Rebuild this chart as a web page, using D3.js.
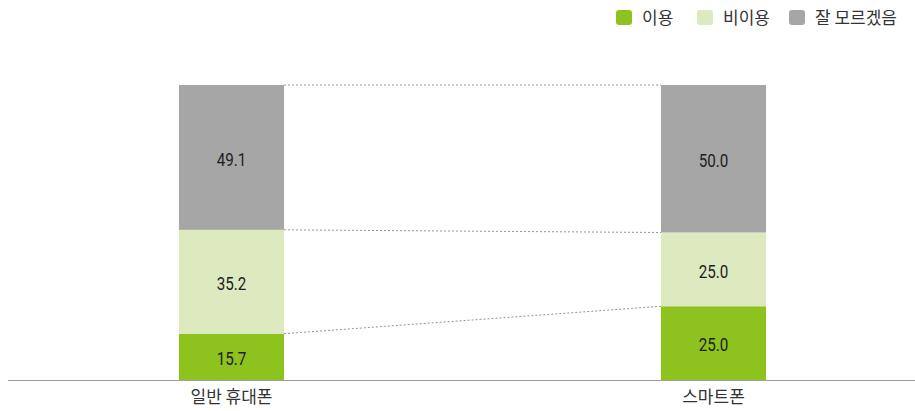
<!DOCTYPE html>
<html>
<head>
<meta charset="utf-8">
<script src="https://cdn.jsdelivr.net/npm/d3@7"></script>
<style>
  html, body { margin: 0; padding: 0; background: #fff; }
  svg { display: block; font-family: "Noto Sans CJK KR", "Noto Sans", sans-serif; }
</style>
</head>
<body>
<svg id="chart" width="915" height="411"></svg>
<script>
// Phone type categories and stacked shares (%)
const categories = ["일반 휴대폰", "스마트폰"];
const seriesNames = ["이용", "비이용", "잘 모르겠음"];
const useValues = [15.7, 25.0];
const nonUseValues = [35.2, 25.0];
const unknownValues = [49.1, 50.0];
const seriesColors = ["#8dc21f", "#dde9bf", "#a6a6a6"];

const svg = d3.select("#chart");
const W = 915, H = 411;
const baseY = 380, topY = 85;

const rows = categories.map((c, i) => ({
  cat: c,
  "이용": useValues[i],
  "비이용": nonUseValues[i],
  "잘 모르겠음": unknownValues[i]
}));
const stacked = d3.stack().keys(seriesNames)(rows);

const x = d3.scaleBand()
  .domain(categories)
  .range([-9.5, 954.5])
  .paddingInner(0.782)
  .paddingOuter(0.391);
const y = d3.scaleLinear().domain([0, 100]).range([baseY, topY]);
const color = d3.scaleOrdinal().domain(seriesNames).range(seriesColors);

// Dotted connectors between the segment tops of neighbouring bars
const connectors = svg.append("g");
stacked.forEach(layer => {
  for (let i = 0; i < categories.length - 1; i++) {
    connectors.append("line")
      .attr("x1", x(categories[i]) + x.bandwidth())
      .attr("y1", y(layer[i][1]))
      .attr("x2", x(categories[i + 1]))
      .attr("y2", y(layer[i + 1][1]))
      .attr("stroke", "#777")
      .attr("stroke-width", 0.8)
      .attr("stroke-dasharray", "2,2");
  }
});

// Bars
const layers = svg.append("g").selectAll("g")
  .data(stacked).join("g")
  .attr("fill", d => color(d.key));

layers.selectAll("rect")
  .data(d => d).join("rect")
  .attr("x", d => x(d.data.cat))
  .attr("width", x.bandwidth())
  .attr("y", d => y(d[1]))
  .attr("height", d => y(d[0]) - y(d[1]));

// Value labels, set in a narrowed numeral face
layers.selectAll("text")
  .data(d => d.map(v => Object.assign({}, v, { key: d.key }))).join("text")
  .attr("transform", d => {
    const cx = x(d.data.cat) + x.bandwidth() / 2;
    const cy = (y(d[0]) + y(d[1])) / 2 + 1.5;
    return `translate(${cx},${cy}) scale(0.8,1)`;
  })
  .attr("dy", "0.36em")
  .attr("text-anchor", "middle")
  .attr("fill", "#1e1e1e")
  .style("font-family", "Roboto, sans-serif")
  .style("font-size", "19px")
  .text(d => d.data[d.key].toFixed(1));

// Baseline axis with category labels
const axis = d3.axisBottom(x).tickSize(0).tickPadding(11);
const axisG = svg.append("g").attr("transform", `translate(0,${baseY})`).call(axis);
axisG.select(".domain").remove();
axisG.selectAll("text")
  .style("font-family", "\"Noto Sans CJK KR\", sans-serif")
  .style("font-size", "17px")
  .attr("fill", "#333");
svg.append("line")
  .attr("x1", 8).attr("x2", W)
  .attr("y1", baseY + 0.5).attr("y2", baseY + 0.5)
  .attr("stroke", "#a0a0a0").attr("stroke-width", 1.2);

// Legend
const legendX = [616, 697, 789];
const legend = svg.append("g").selectAll("g")
  .data(seriesNames).join("g")
  .attr("transform", (d, i) => `translate(${legendX[i]},10)`);
legend.append("rect")
  .attr("width", 16).attr("height", 15).attr("rx", 3)
  .attr("fill", d => color(d));
legend.append("text")
  .attr("x", 26).attr("y", 7.5).attr("dy", "0.36em")
  .style("font-size", "17px")
  .attr("fill", "#333")
  .text(d => d);
</script>
</body>
</html>
